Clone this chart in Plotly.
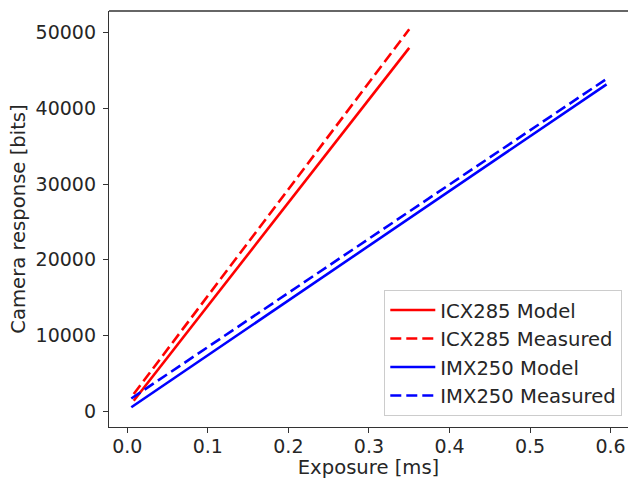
import plotly.graph_objects as go

# Data
icx_exposure = [0.008, 0.35]
icx_model = [1350, 48000]
icx_measured = [2250, 50450]

imx_exposure = [0.005, 0.595]
imx_model = [500, 43180]
imx_measured = [1650, 43900]

x_ticks = [0.0, 0.1, 0.2, 0.3, 0.4, 0.5, 0.6]
y_ticks = [0, 10000, 20000, 30000, 40000, 50000]

FONT = "DejaVu Sans"
TXT = "#262626"
DASH = "11px,5px"
LW = 2.6

fig = go.Figure()
fig.add_trace(go.Scatter(x=icx_exposure, y=icx_model, mode="lines", name="ICX285 Model",
                         line=dict(color="#ff0000", width=LW)))
fig.add_trace(go.Scatter(x=icx_exposure, y=icx_measured, mode="lines", name="ICX285 Measured",
                         line=dict(color="#ff0000", width=LW, dash=DASH)))
fig.add_trace(go.Scatter(x=imx_exposure, y=imx_model, mode="lines", name="IMX250 Model",
                         line=dict(color="#0000ff", width=LW)))
fig.add_trace(go.Scatter(x=imx_exposure, y=imx_measured, mode="lines", name="IMX250 Measured",
                         line=dict(color="#0000ff", width=LW, dash=DASH)))

fig.update_layout(
    width=628, height=479,
    margin=dict(l=109, r=0, t=11, b=52),
    paper_bgcolor="white", plot_bgcolor="white",
    font=dict(family=FONT, size=19, color=TXT),
    showlegend=True,
    legend=dict(
        x=0.989, y=0.027, xanchor="right", yanchor="bottom",
        bgcolor="white", bordercolor="#cccccc", borderwidth=1,
        font=dict(family=FONT, size=19.6, color=TXT),
        itemwidth=45,
    ),
    xaxis=dict(
        range=[-0.0227, 0.6216], tickvals=x_ticks, ticktext=[f"{v:.1f}" for v in x_ticks],
        showgrid=False, zeroline=False, showline=True, linecolor="#333333", linewidth=1.3,
        ticks="outside", ticklen=5, tickwidth=1.3, tickcolor="#333333",
        ticklabelstandoff=-3,
        title=dict(text="Exposure [ms]", standoff=4, font=dict(size=19.6)),
        tickfont=dict(size=19),
    ),
    yaxis=dict(
        range=[-2115, 52870], tickvals=y_ticks, ticktext=[str(v) for v in y_ticks],
        showgrid=False, zeroline=False, showline=True, linecolor="#333333", linewidth=1.3,
        ticks="outside", ticklen=5, tickwidth=1.3, tickcolor="#333333",
        ticklabelstandoff=3,
        title=dict(text="Camera response [bits]", standoff=4, font=dict(size=19.6)),
        tickfont=dict(size=19),
    ),
    shapes=[dict(type="line", xref="paper", yref="paper", x0=0, x1=1, y0=1, y1=1,
                 line=dict(color="#333333", width=1.3))],
)

fig.write_html("out.html", config={"displayModeBar": False},
               post_script="document.body.style.margin='0';document.body.style.overflow='hidden';")
